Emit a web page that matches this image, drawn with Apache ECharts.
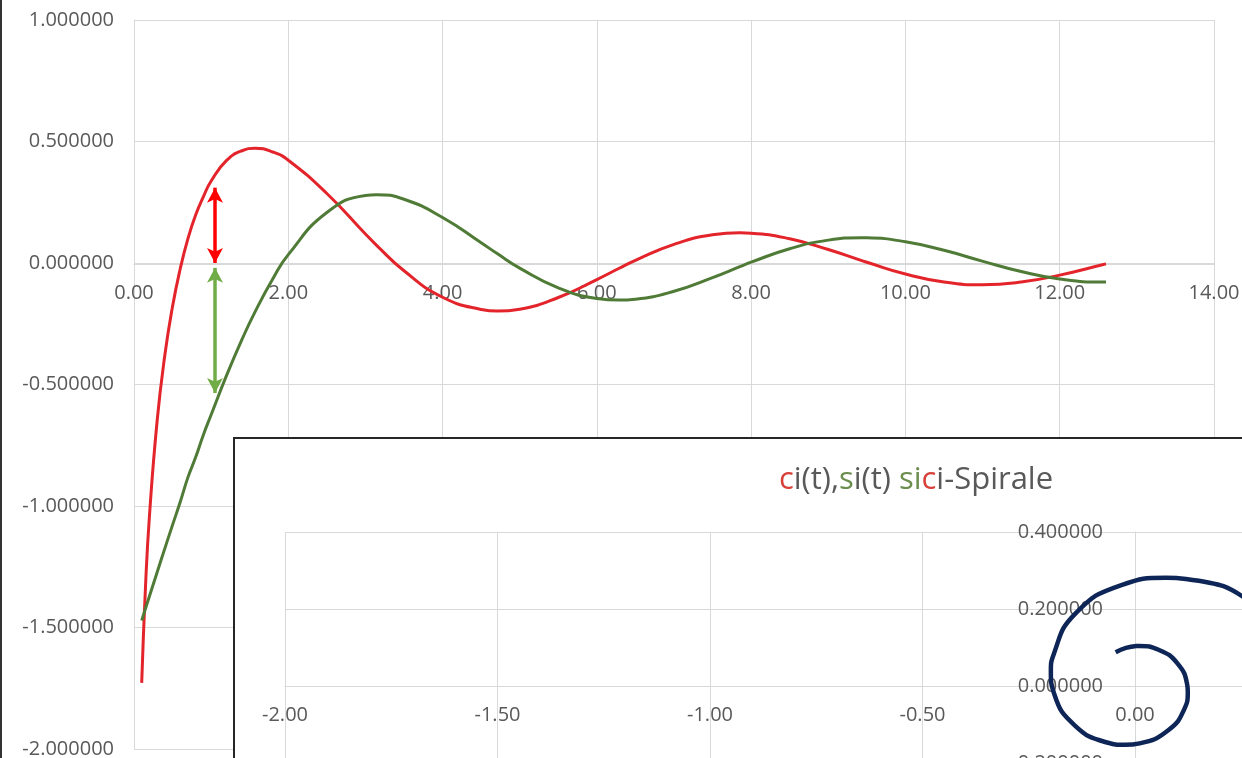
<!DOCTYPE html>
<html>
<head>
<meta charset="utf-8">
<script src="https://cdn.jsdelivr.net/npm/echarts@6/dist/echarts.min.js"></script>
<style>
  html, body { margin: 0; padding: 0; background: #fff; }
  #chart { width: 1242px; height: 758px; }
</style>
</head>
<body>
<div id="chart"></div>
<script>
// t values and the curves ci(t), si(t)
var tValues = [0.1, 0.15, 0.2, 0.3, 0.4, 0.5, 0.6, 0.7, 0.8, 0.9, 1.0, 1.2, 1.4, 1.5708, 1.8, 2.0,
  2.5, 3.0, 3.1416, 3.5, 4.0, 4.5, 4.7124, 5.0, 5.5, 6.0, 6.2832, 6.5, 7.0, 7.5, 7.854, 8.0, 8.5,
  9.0, 9.4248, 9.5, 10.0, 10.5, 10.9956, 11.5, 12.0, 12.5664, 12.6];
var ciValues = [-1.7279, -1.3255, -1.0422, -0.6492, -0.3788, -0.1778, -0.0228, 0.1011, 0.1983, 0.2732,
  0.3374, 0.4221, 0.4620, 0.4720, 0.4568, 0.4230, 0.2859, 0.1196, 0.0737, -0.0321, -0.1410, -0.1910,
  -0.1980, -0.1900, -0.1420, -0.0681, -0.0226, 0.0110, 0.0767, 0.1160, 0.1242, 0.1228, 0.0998,
  0.0554, 0.0105, 0.0030, -0.0455, -0.0782, -0.0896, -0.0785, -0.0498, -0.0061, -0.0034];
var siValues = [-1.4709, -1.4210, -1.3712, -1.2723, -1.1743, -1.0777, -0.9827, -0.8812, -0.7988, -0.7064,
  -0.6247, -0.4625, -0.3146, -0.2000, -0.0650, 0.0346, 0.2077, 0.2779, 0.2811, 0.2623, 0.1874, 0.0833,
  0.0377, -0.0209, -0.1021, -0.1461, -0.1527, -0.1489, -0.1162, -0.0601, -0.0150, 0.0034, 0.0588,
  0.0942, 0.1040, 0.1037, 0.0876, 0.0522, 0.0079, -0.0351, -0.0658, -0.0786, -0.0785];

// the spiral only uses t up to this value
var spiralEndT = 10.0;

// the two arrows at t = 1
var arrowX = 1.05;
var ciArrow = [0.0, 0.31];
var siArrow = [-0.02, -0.535];

var font = "'Open Sans', sans-serif";
var grey = '#595959';
var gridColor = '#d9d9d9';

var ciData = tValues.map(function (t, i) { return [t, ciValues[i]]; });
var siData = tValues.map(function (t, i) { return [t, siValues[i]]; });
var spiralData = [];
tValues.forEach(function (t, i) {
  if (t <= spiralEndT) spiralData.push([ciValues[i], siValues[i]]);
});

var chart = echarts.init(document.getElementById('chart'));

var titleStyle = function (c) {
  return { color: c, fontSize: 31, fontFamily: font, fontWeight: 'normal' };
};

// axes cross at zero: the bottom/left axes are shifted there with offset
var option = {
  backgroundColor: '#fff',
  animation: false,
  title: {
    text: '{r|c}{g|i(t),}{gr|s}{g|i(t) }{gr|si}{r|c}{g|i-Spirale}',
    left: 911,
    top: 460,
    textAlign: 'center',
    z: 80,
    textStyle: {
      fontWeight: 'normal',
      rich: { r: titleStyle('#d8403a'), g: titleStyle(grey), gr: titleStyle('#6b8e4e') }
    }
  },
  graphic: [
    {
      type: 'line',
      shape: { x1: 1, y1: 0, x2: 1, y2: 758 },
      style: { stroke: '#333', lineWidth: 2 },
      z: 50
    },
    {
      type: 'rect',
      shape: { x: 234, y: 438, width: 1400, height: 500 },
      style: { fill: '#fff', stroke: '#262626', lineWidth: 2 },
      z: 50
    }
  ],
  grid: [
    { left: 134, top: 20, width: 1080, height: 729, outerBoundsMode: 'none', containLabel: false },
    { left: 285, top: 532, width: 1062.5, height: 924, z: 60, outerBoundsMode: 'none', containLabel: false }
  ],
  xAxis: [
    {
      type: 'value', gridIndex: 0, min: 0, max: 14, interval: 2,
      position: 'bottom', offset: -485,
      axisLine: { onZero: false, lineStyle: { color: gridColor } },
      axisTick: { show: false },
      axisLabel: { color: grey, fontSize: 20, fontFamily: font, margin: 19,
        formatter: function (v) { return v.toFixed(2); } },
      splitLine: { lineStyle: { color: gridColor } }
    },
    {
      type: 'value', gridIndex: 1, min: -2, max: 0.5, interval: 0.5, z: 60,
      position: 'bottom', offset: -770,
      axisLine: { onZero: false, lineStyle: { color: gridColor } },
      axisTick: { show: false },
      axisLabel: { color: grey, fontSize: 20, fontFamily: font, margin: 19,
        formatter: function (v) { return v.toFixed(2); } },
      splitLine: { lineStyle: { color: gridColor } }
    }
  ],
  yAxis: [
    {
      type: 'value', gridIndex: 0, min: -2, max: 1, interval: 0.5,
      axisLine: { show: true, onZero: false, lineStyle: { color: gridColor } },
      axisTick: { show: false },
      axisLabel: { color: grey, fontSize: 20, fontFamily: font, margin: 20,
        formatter: function (v) { return v.toFixed(6); } },
      splitLine: { lineStyle: { color: gridColor } }
    },
    {
      type: 'value', gridIndex: 1, min: -2, max: 0.4, interval: 0.2, z: 60,
      position: 'left', offset: -850,
      axisLine: { show: true, onZero: false, lineStyle: { color: gridColor } },
      axisTick: { show: false },
      axisLabel: { color: grey, fontSize: 20, fontFamily: font, margin: 32,
        formatter: function (v) { return v.toFixed(6); } },
      splitLine: { lineStyle: { color: gridColor } }
    }
  ],
  series: [
    {
      name: 'ci(t)', type: 'line', xAxisIndex: 0, yAxisIndex: 0,
      data: ciData, smooth: true, showSymbol: false, z: 3,
      lineStyle: { color: '#e3242b', width: 3 },
      markLine: {
        silent: true, symbol: ['arrow', 'arrow'], symbolSize: [12, 15],
        label: { show: false },
        lineStyle: { color: '#ff0000', width: 3.5, type: 'solid' },
        data: [[{ coord: [arrowX, ciArrow[0]] }, { coord: [arrowX, ciArrow[1]] }]]
      }
    },
    {
      name: 'si(t)', type: 'line', xAxisIndex: 0, yAxisIndex: 0,
      data: siData, smooth: true, showSymbol: false, z: 3,
      lineStyle: { color: '#4f7b37', width: 3 },
      markLine: {
        silent: true, symbol: ['arrow', 'arrow'], symbolSize: [12, 15],
        label: { show: false },
        lineStyle: { color: '#70ad47', width: 3.5, type: 'solid' },
        data: [[{ coord: [arrowX, siArrow[0]] }, { coord: [arrowX, siArrow[1]] }]]
      }
    },
    {
      name: 'sici', type: 'line', xAxisIndex: 1, yAxisIndex: 1,
      data: spiralData, smooth: true, showSymbol: false, z: 70,
      lineStyle: { color: '#0e2657', width: 4.5 }
    }
  ]
};

chart.setOption(option);
</script>
</body>
</html>
